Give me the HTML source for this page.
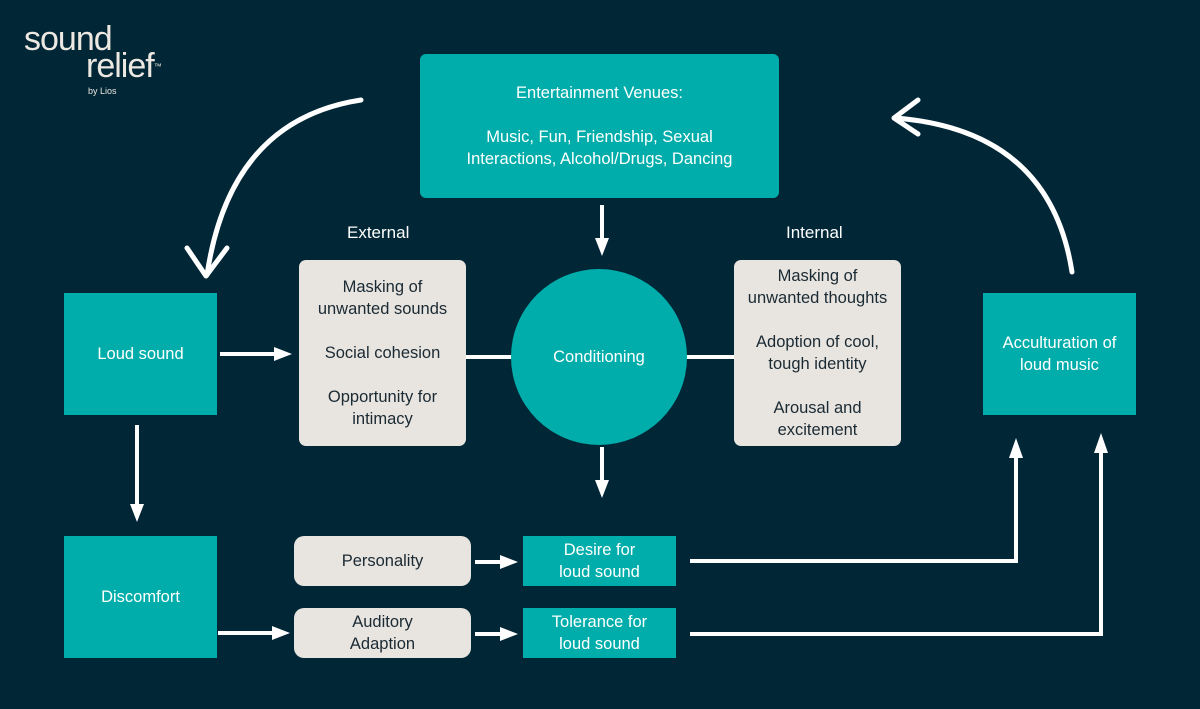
<!DOCTYPE html>
<html><head><style>
body{margin:0;width:1200px;height:709px;background:#012636;position:relative;overflow:hidden;font-family:"Liberation Sans",sans-serif}
.b{position:absolute;display:flex;align-items:center;justify-content:center;text-align:center;font-size:16.5px;line-height:22px}
.t{background:#00ADAA;color:#fff}
.g{background:#E8E4E0;color:#1a2a33;border-radius:7px}
.l{position:absolute;color:#fff;font-size:17px}
</style></head><body>
<div style="position:absolute;left:24px;top:26px;color:#EDE8E2;font-size:34px;line-height:27px;letter-spacing:-1px">sound<br><span style="padding-left:62px">relief</span><span style="font-size:8px;vertical-align:top">™</span></div>
<div style="position:absolute;left:88px;top:86px;color:#EDE8E2;font-size:9px">by Lios</div>

<div class="b t" style="left:420px;top:54px;width:359px;height:144px;border-radius:6px;flex-direction:column">Entertainment Venues:<br><br>Music, Fun, Friendship, Sexual<br>Interactions, Alcohol/Drugs, Dancing</div>
<div class="b t" style="left:64px;top:293px;width:153px;height:122px">Loud sound</div>
<div class="b t" style="left:64px;top:536px;width:153px;height:122px">Discomfort</div>
<div class="b t" style="left:983px;top:293px;width:153px;height:122px">Acculturation of<br>loud music</div>
<div class="l" style="left:347px;top:223px">External</div>
<div class="l" style="left:786px;top:223px">Internal</div>
<div class="b g" style="left:299px;top:260px;width:167px;height:186px">Masking of<br>unwanted sounds<br><br>Social cohesion<br><br>Opportunity for<br>intimacy</div>
<div class="b g" style="left:734px;top:260px;width:167px;height:186px">Masking of<br>unwanted thoughts<br><br>Adoption of cool,<br>tough identity<br><br>Arousal and<br>excitement</div>
<div class="b g" style="left:294px;top:536px;width:177px;height:50px;border-radius:10px">Personality</div>
<div class="b g" style="left:294px;top:608px;width:177px;height:50px;border-radius:10px">Auditory<br>Adaption</div>
<div class="b t" style="left:523px;top:536px;width:153px;height:50px">Desire for<br>loud sound</div>
<div class="b t" style="left:523px;top:608px;width:153px;height:50px">Tolerance for<br>loud sound</div>

<svg width="1200" height="709" style="position:absolute;left:0;top:0" fill="none" stroke="#fff" stroke-width="4">
<line x1="466" y1="357" x2="515" y2="357"/>
<line x1="685" y1="357" x2="734" y2="357"/>
<circle cx="599" cy="357" r="88" fill="#00ADAA" stroke="none"/>
<g stroke-width="4">
<line x1="220" y1="354" x2="276" y2="354"/>
<line x1="137" y1="425" x2="137" y2="506"/>
<line x1="218" y1="633" x2="274" y2="633"/>
<line x1="475" y1="562" x2="502" y2="562"/>
<line x1="475" y1="634" x2="502" y2="634"/>
<line x1="602" y1="205" x2="602" y2="240"/>
<line x1="602" y1="447" x2="602" y2="482"/>
<polyline points="690,561 1016,561 1016,455"/>
<polyline points="690,634 1101,634 1101,450"/>
<path d="M361,100 Q230,120 207,275" stroke-width="5" stroke-linecap="round"/>
<polyline points="187,248 206,276 227,248" stroke-width="5" stroke-linecap="round" stroke-linejoin="round"/>
<path d="M1072,272 Q1050,130 895,118" stroke-width="5" stroke-linecap="round"/>
<polyline points="918,100 894,118 918,134" stroke-width="5" stroke-linecap="round" stroke-linejoin="round"/>
</g>
<g fill="#fff" stroke="none">
<polygon points="274,347 292,354 274,361"/>
<polygon points="130,504 137,522 144,504"/>
<polygon points="272,626 290,633 272,640"/>
<polygon points="500,555 518,562 500,569"/>
<polygon points="500,627 518,634 500,641"/>
<polygon points="595,238 602,256 609,238"/>
<polygon points="595,480 602,498 609,480"/>
<polygon points="1009,458 1016,438 1023,458"/>
<polygon points="1094,453 1101,433 1108,453"/>
</g>
</svg>
<div class="b" style="left:511px;top:345px;width:176px;height:24px;color:#fff">Conditioning</div>
</body></html>
